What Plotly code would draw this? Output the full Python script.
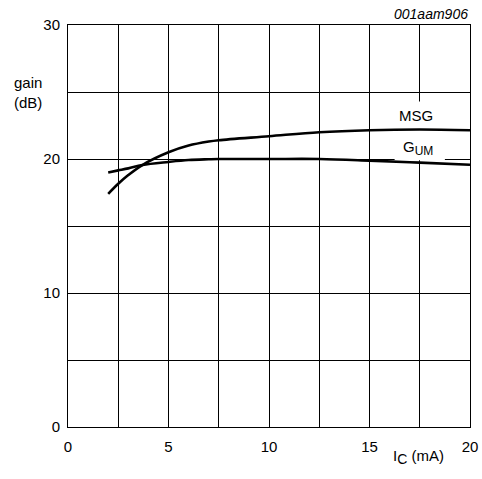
import plotly.graph_objects as go

# Collector current (mA)
ic = [2.0, 2.5, 3.0, 3.7, 5.0, 6.0, 7.0, 7.5, 10.0, 12.5, 15.0, 17.5, 20.0]
# Maximum stable gain (dB)
msg = [17.4, 18.15, 18.8, 19.55, 20.5, 21.0, 21.3, 21.4, 21.7, 22.0, 22.15, 22.2, 22.15]
# Maximum unilateral power gain (dB)
gum = [19.0, 19.15, 19.3, 19.55, 19.78, 19.92, 19.98, 20.0, 20.0, 20.0, 19.88, 19.73, 19.57]

x_ticks = [0, 5, 10, 15, 20]
y_ticks = [0, 10, 20, 30]

FONT = "Liberation Sans, Arial, sans-serif"
BLACK = "black"

fig = go.Figure()
for name, vals in (("MSG", msg), ("GUM", gum)):
    fig.add_trace(go.Scatter(x=ic, y=vals, mode="lines", name=name, hoverinfo="skip",
                             line=dict(color=BLACK, width=2.6, shape="spline")))

# white patch behind the curve labels: above the grid, below the curves
fig.add_shape(type="rect", xref="x", yref="y", x0=16.25, x1=18.75, y0=19.9, y1=24.3,
              fillcolor="white", line=dict(width=0), layer="between")

# curve labels
fig.add_annotation(x=17.31, y=0.775, xref="x", yref="paper", text="MSG", showarrow=False,
                   xanchor="center", yanchor="middle",
                   font=dict(size=15, color=BLACK, family=FONT))
fig.add_annotation(x=17.41, y=0.695, xref="x", yref="paper",
                   text="G<sub><span style='font-size:12px'>UM</span></sub>", showarrow=False,
                   xanchor="center", yanchor="middle",
                   font=dict(size=15, color=BLACK, family=FONT))

# figure code, top right
fig.add_annotation(x=20, y=1.0, xref="x", yref="paper", text="<i>001aam906</i>", showarrow=False,
                   xanchor="right", yanchor="bottom", yshift=1,
                   font=dict(size=14, color=BLACK, family=FONT))

# axis titles
fig.add_annotation(x=0, y=0.832, xref="paper", yref="paper", text="gain<br>(dB)", showarrow=False,
                   xanchor="center", yanchor="middle", align="center", xshift=-40,
                   font=dict(size=15, color=BLACK, family=FONT))
fig.add_annotation(x=17.46, y=-0.044, xref="x", yref="paper",
                   text="I<sub><span style='font-size:14px'>C</span></sub> (mA)", showarrow=False,
                   xanchor="center", yanchor="top",
                   font=dict(size=15, color=BLACK, family=FONT))

axis_common = dict(showgrid=True, gridcolor=BLACK, gridwidth=1,
                   showline=True, linecolor=BLACK, linewidth=1, mirror=True,
                   ticks="", zeroline=False, automargin=False,
                   tickfont=dict(size=15, color=BLACK, family=FONT))
fig.update_xaxes(range=[0, 20], tickvals=x_ticks, ticktext=[str(v) for v in x_ticks],
                 minor=dict(dtick=2.5, showgrid=True, gridcolor=BLACK, gridwidth=1),
                 ticklabelstandoff=6, **axis_common)
fig.update_yaxes(range=[0, 30], tickvals=y_ticks, ticktext=[str(v) for v in y_ticks],
                 minor=dict(dtick=5, showgrid=True, gridcolor=BLACK, gridwidth=1),
                 ticklabelstandoff=4, **axis_common)

fig.update_layout(width=482, height=479, margin=dict(l=68, r=12, t=25, b=52),
                  plot_bgcolor="white", paper_bgcolor="white", showlegend=False,
                  font=dict(family=FONT, color=BLACK))

fig.write_html("out.html")
